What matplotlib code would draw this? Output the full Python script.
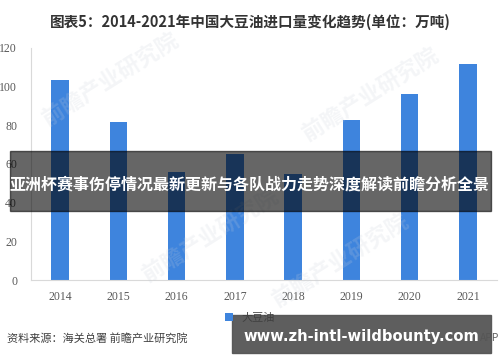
import matplotlib.pyplot as plt
from matplotlib.patches import Rectangle

plt.rcParams['font.family'] = ['Noto Sans CJK SC', 'DejaVu Sans']

# data (万吨)
years = ['2014', '2015', '2016', '2017', '2018', '2019', '2020', '2021']
imports = [103.5, 81.6, 55.6, 65.3, 54.9, 82.6, 96.3, 111.8]
yticks = [0, 20, 40, 60, 80, 100, 120]

title = '图表5：2014-2021年中国大豆油进口量变化趋势(单位：万吨)'
banner = '亚洲杯赛事伤停情况最新更新与各队战力走势深度解读前瞻分析全景'
source = '资料来源：海关总署 前瞻产业研究院'
site = 'www.zh-intl-wildbounty.com'

fig = plt.figure(figsize=(5, 3.62), dpi=100)
ax = fig.add_axes([0.062, 0.2265, 0.932, 0.641])

x = range(len(years))
ax.bar(x, imports, width=0.3, color='#3e84dd', label='大豆油', zorder=2)

ax.set_xlim(-0.5, 7.5)
ax.set_ylim(0, 120)
ax.set_xticks(list(x))
ax.set_xticklabels(years, family='Liberation Serif', fontsize=8.5, color='#595959')
ax.set_yticks(yticks)
ax.set_yticklabels([str(v) for v in yticks], family='Liberation Serif', fontsize=8.5, color='#595959')
ax.tick_params(length=0)
ax.tick_params(axis='x', pad=8)
ax.tick_params(axis='y', pad=10)
for s in ['top', 'right']:
    ax.spines[s].set_visible(False)
for s in ['left', 'bottom']:
    ax.spines[s].set_color('#d9d9d9')

# faint watermarks
for wx, wy in [(0.22, 0.78), (0.74, 0.74), (0.42, 0.35), (0.68, 0.28)]:
    fig.text(wx, wy, '前瞻产业研究院', fontsize=16, color='#c8d0da', alpha=0.2,
             rotation=32, ha='center', va='center', weight='bold', zorder=3)

fig.text(0.5, 0.939, title, ha='center', va='center', fontsize=10.5,
         weight='bold', color='#333333')

fig.legend(loc='center', bbox_to_anchor=(0.5, 0.122), frameon=False,
           fontsize=8, handlelength=0.7, handleheight=0.7, labelcolor='#404040')

fig.text(0.014, 0.066, source, ha='left', va='center', fontsize=8, color='#404040')
fig.text(0.999, 0.066, 'APP', ha='right', va='center', fontsize=7.5, color='#606060')

# overlay banner across the middle
fig.patches.append(Rectangle((0.02, 1 - 211 / 362), 0.962, 60 / 362,
                             transform=fig.transFigure, color='black', alpha=0.6, zorder=5))
fig.text(0.5, 1 - 185 / 362, banner, ha='center', va='center', fontsize=11.5,
         weight='bold', color='white', zorder=6)

# site box at the bottom
fig.patches.append(Rectangle((0.464, 0.025), 0.518, 38 / 362,
                             transform=fig.transFigure, color='#555555', alpha=0.95, zorder=5))
fig.text(0.486, 1 - 337 / 362, site, ha='left', va='center', fontsize=10.6,
         weight='bold', color='white', family='DejaVu Sans', zorder=6)

fig.savefig('out.png', dpi=100)
